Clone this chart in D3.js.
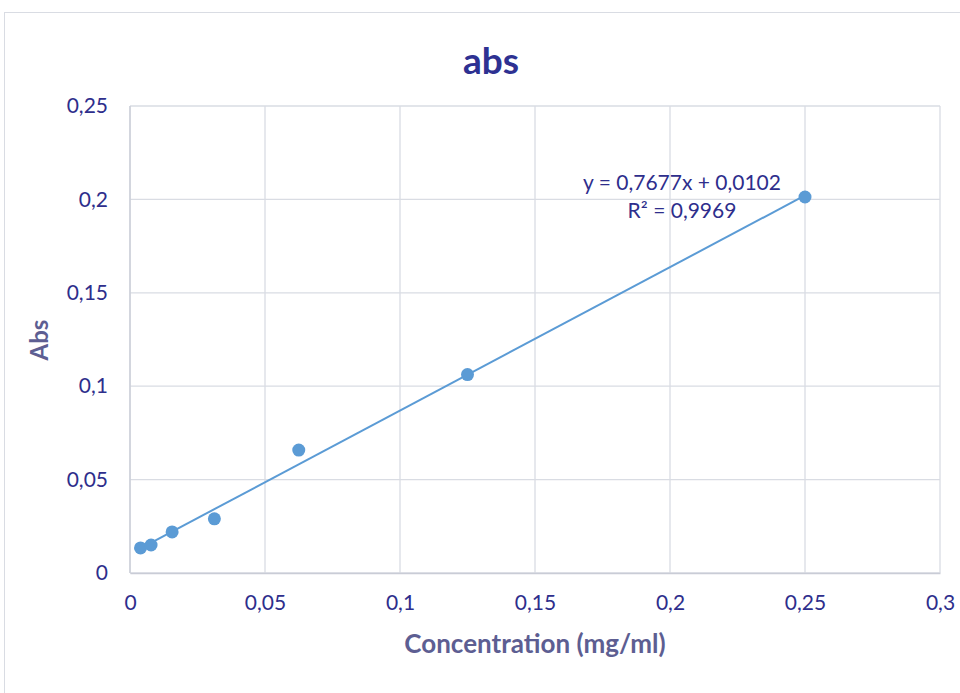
<!DOCTYPE html>
<html>
<head>
<meta charset="utf-8">
<script src="https://cdn.jsdelivr.net/npm/d3@7"></script>
<style>
  body { margin: 0; background: #fff; }
  text { font-family: Lato, "Open Sans", sans-serif; }
</style>
</head>
<body>
<div id="chart"></div>
<script>
// measured concentrations (mg/ml) and absorbance
var conc = [0.0039, 0.0078, 0.0156, 0.03125, 0.0625, 0.125, 0.25];
var absVals = [0.0134, 0.0150, 0.0220, 0.0290, 0.0658, 0.1062, 0.2013];
var xTicks = [0, 0.05, 0.1, 0.15, 0.2, 0.25, 0.3];
var yTicks = [0, 0.05, 0.1, 0.15, 0.2, 0.25];
var slope = 0.7677, intercept = 0.0102, r2 = 0.9969;

var width = 960, height = 693;

var fmt = function(v) { return String(v).replace('.', ','); };

var svg = d3.select('#chart').append('svg')
	.attr('width', width)
	.attr('height', height);

// chart frame
svg.append('rect')
	.attr('x', 4.5).attr('y', 12.5)
	.attr('width', width).attr('height', height)
	.attr('fill', 'none')
	.attr('stroke', '#d9dce3');

var x = d3.scaleLinear().domain([0, 0.3]).range([130, 940]);
var y = d3.scaleLinear().domain([0, 0.25]).range([573, 106]);

// gridlines
svg.append('g').selectAll('line.v')
	.data(xTicks).enter().append('line')
	.attr('x1', function(d) { return x(d); })
	.attr('x2', function(d) { return x(d); })
	.attr('y1', y(0)).attr('y2', y(0.25))
	.attr('stroke', '#d9dce3').attr('stroke-width', 1.3);

svg.append('g').selectAll('line.h')
	.data(yTicks).enter().append('line')
	.attr('x1', x(0)).attr('x2', x(0.3))
	.attr('y1', function(d) { return y(d); })
	.attr('y2', function(d) { return y(d); })
	.attr('stroke', '#d9dce3').attr('stroke-width', 1.3);

// axes (labels only, lines come from grid)
var xAxis = svg.append('g')
	.attr('transform', 'translate(0,' + y(0) + ')')
	.call(d3.axisBottom(x).tickValues(xTicks).tickSize(0).tickPadding(22).tickFormat(fmt));
var yAxis = svg.append('g')
	.attr('transform', 'translate(' + x(0) + ',0)')
	.call(d3.axisLeft(y).tickValues(yTicks).tickSize(0).tickPadding(22).tickFormat(fmt));

[xAxis, yAxis].forEach(function(a) {
	a.select('.domain').attr('stroke', '#c9ccd6').attr('stroke-width', 1.3);
	a.selectAll('text')
		.attr('fill', '#2e2e8c')
		.style('font-size', '21px')
		.style('font-family', 'Lato, sans-serif');
});
yAxis.select('.domain').remove();
svg.append('line')
	.attr('x1', x(0)).attr('x2', x(0))
	.attr('y1', y(0)).attr('y2', y(0.25))
	.attr('stroke', '#c9ccd6').attr('stroke-width', 1.3);

// trendline
var xr = d3.extent(conc);
svg.append('line')
	.attr('x1', x(xr[0])).attr('y1', y(slope * xr[0] + intercept))
	.attr('x2', x(xr[1])).attr('y2', y(slope * xr[1] + intercept))
	.attr('stroke', '#5b9bd5').attr('stroke-width', 2);

// points
svg.append('g').selectAll('circle')
	.data(conc).enter().append('circle')
	.attr('cx', function(d) { return x(d); })
	.attr('cy', function(d, i) { return y(absVals[i]); })
	.attr('r', 6.5)
	.attr('fill', '#5b9bd5');

// equation
svg.append('text')
	.attr('x', 682).attr('y', 190)
	.attr('text-anchor', 'middle')
	.attr('fill', '#2e2e8c')
	.style('font-size', '21px')
	.text('y = ' + fmt(slope) + 'x + ' + fmt(intercept));
svg.append('text')
	.attr('x', 682).attr('y', 218)
	.attr('text-anchor', 'middle')
	.attr('fill', '#2e2e8c')
	.style('font-size', '21px')
	.text('R² = ' + fmt(r2));

// title
svg.append('text')
	.attr('x', 491).attr('y', 74)
	.attr('text-anchor', 'middle')
	.attr('fill', '#2e3192')
	.style('font-size', '37px')
	.style('font-weight', 'bold')
	.text('abs');

// axis titles
svg.append('text')
	.attr('x', 535).attr('y', 653)
	.attr('text-anchor', 'middle')
	.attr('fill', '#5d5e92')
	.style('font-size', '26px')
	.style('font-weight', 'bold')
	.text('Concentration (mg/ml)');

svg.append('text')
	.attr('transform', 'translate(48,340) rotate(-90)')
	.attr('text-anchor', 'middle')
	.attr('fill', '#5d5e92')
	.style('font-size', '24px')
	.style('font-weight', 'bold')
	.text('Abs');
</script>
</body>
</html>
